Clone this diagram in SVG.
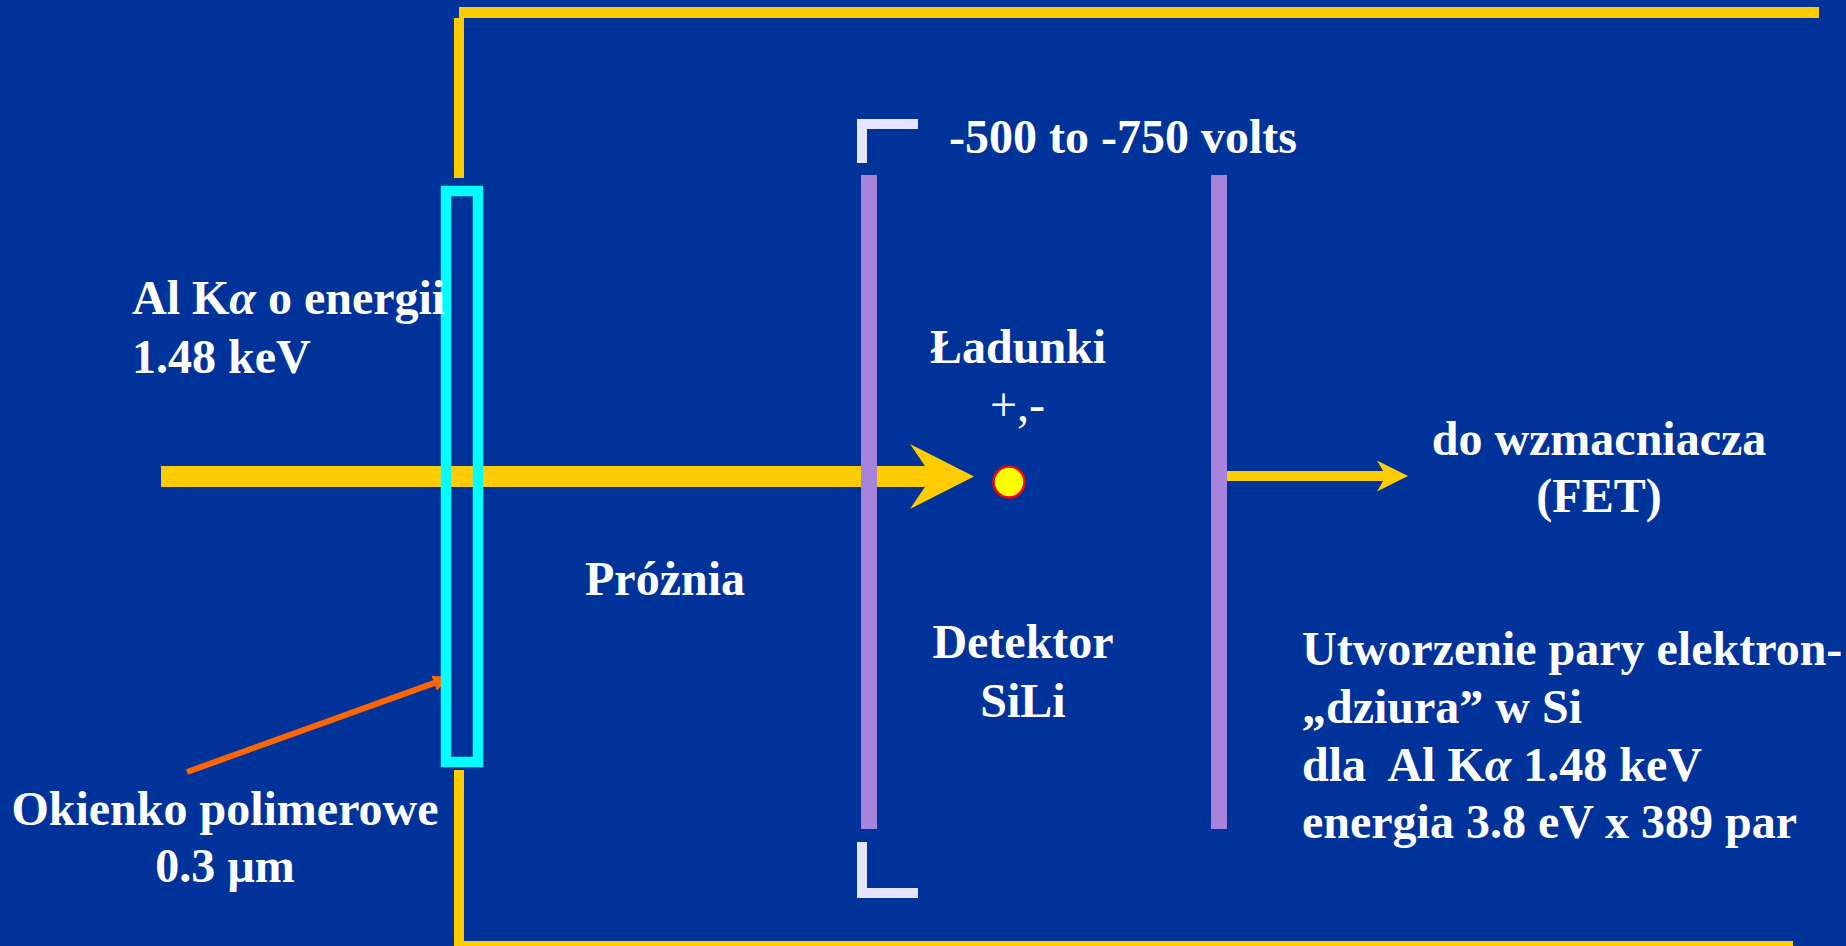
<svg xmlns="http://www.w3.org/2000/svg" width="1846" height="946" viewBox="0 0 1846 946">
<style>
.t{font-family:"Liberation Serif","Times New Roman",serif;font-weight:bold;font-size:48px;fill:#FFFFFF}
.n{font-weight:normal}
.frame{fill:#FFCC00}
.plate{fill:#A684DC}
.br{fill:none;stroke:#E5E5FF;stroke-width:10}
</style>
<defs>
<marker id="bigHead" markerUnits="userSpaceOnUse" viewBox="0 0 64 65" markerWidth="64" markerHeight="65" refX="25" refY="32.5" orient="auto">
<path d="M0,0 L64,32.5 L0,65 L22,32.5 Z" fill="#FFCC00"/>
</marker>
<marker id="smallHead" markerUnits="userSpaceOnUse" viewBox="0 0 31 31" markerWidth="31" markerHeight="31" refX="13" refY="15.5" orient="auto">
<path d="M0,0 L31,15.5 L0,31 L9,15.5 Z" fill="#FFCC00"/>
</marker>
<marker id="orangeHead" markerUnits="userSpaceOnUse" viewBox="0 0 18 16" markerWidth="18" markerHeight="16" refX="8" refY="8" orient="auto">
<path d="M0,0 L18,8 L0,16 Z" fill="#FF6600"/>
</marker>
</defs>
<rect x="0" y="0" width="1846" height="946" fill="#003399"/>

<g id="chamber">
<rect class="frame" x="459" y="7" width="1360" height="11"/>
<rect class="frame" x="454" y="18" width="10" height="160"/>
<rect class="frame" x="454" y="770" width="10" height="176"/>
<rect class="frame" x="459" y="941" width="1334" height="10"/>
</g>

<g id="connectors">
<line x1="161" y1="476.5" x2="935" y2="476.5" stroke="#FFCC00" stroke-width="21" marker-end="url(#bigHead)"/>
<line x1="1227" y1="476" x2="1390" y2="476" stroke="#FFCC00" stroke-width="10" marker-end="url(#smallHead)"/>
<line x1="187" y1="772" x2="441.6" y2="680.4" stroke="#FF6600" stroke-width="6" marker-end="url(#orangeHead)"/>
</g>

<g id="window">
<rect x="446" y="191" width="32" height="571" fill="none" stroke="#00FFFF" stroke-width="10.5"/>
</g>

<g id="detector">
<rect class="plate" x="861" y="175" width="16" height="654"/>
<rect class="plate" x="1211" y="175" width="16" height="654"/>
<path class="br" d="M862,163 V124 H918"/>
<path class="br" d="M862,842 V893 H918"/>
</g>

<g id="charge">
<circle cx="1009" cy="482" r="15.5" fill="#FFFF00" stroke="#FF0000" stroke-width="2.5"/>
</g>

<g id="labels">
<text class="t" x="132" y="314">Al K<tspan font-style="italic">α</tspan> o energii</text>
<text class="t" x="132" y="373">1.48 keV</text>
<text class="t" x="949" y="153">-500 to -750 volts</text>
<text class="t" x="930" y="363">Ładunki</text>
<text class="t n" x="990" y="421">+,-</text>
<text class="t" x="585" y="595">Próżnia</text>
<text class="t" x="1023" y="658" text-anchor="middle">Detektor</text>
<text class="t" x="1023" y="717" text-anchor="middle">SiLi</text>
<text class="t" x="225" y="825" text-anchor="middle">Okienko polimerowe</text>
<text class="t" x="225" y="882" text-anchor="middle">0.3 µm</text>
<text class="t" x="1599" y="455" text-anchor="middle">do wzmacniacza</text>
<text class="t" x="1599" y="512" text-anchor="middle">(FET)</text>
<text class="t" x="1302" y="665">Utworzenie pary elektron-</text>
<text class="t" x="1302" y="723">„dziura” w Si</text>
<text class="t" x="1302" y="781" xml:space="preserve">dla  Al K<tspan font-style="italic">α</tspan> 1.48 keV</text>
<text class="t" x="1302" y="838">energia 3.8 eV x 389 par</text>
</g>
</svg>
